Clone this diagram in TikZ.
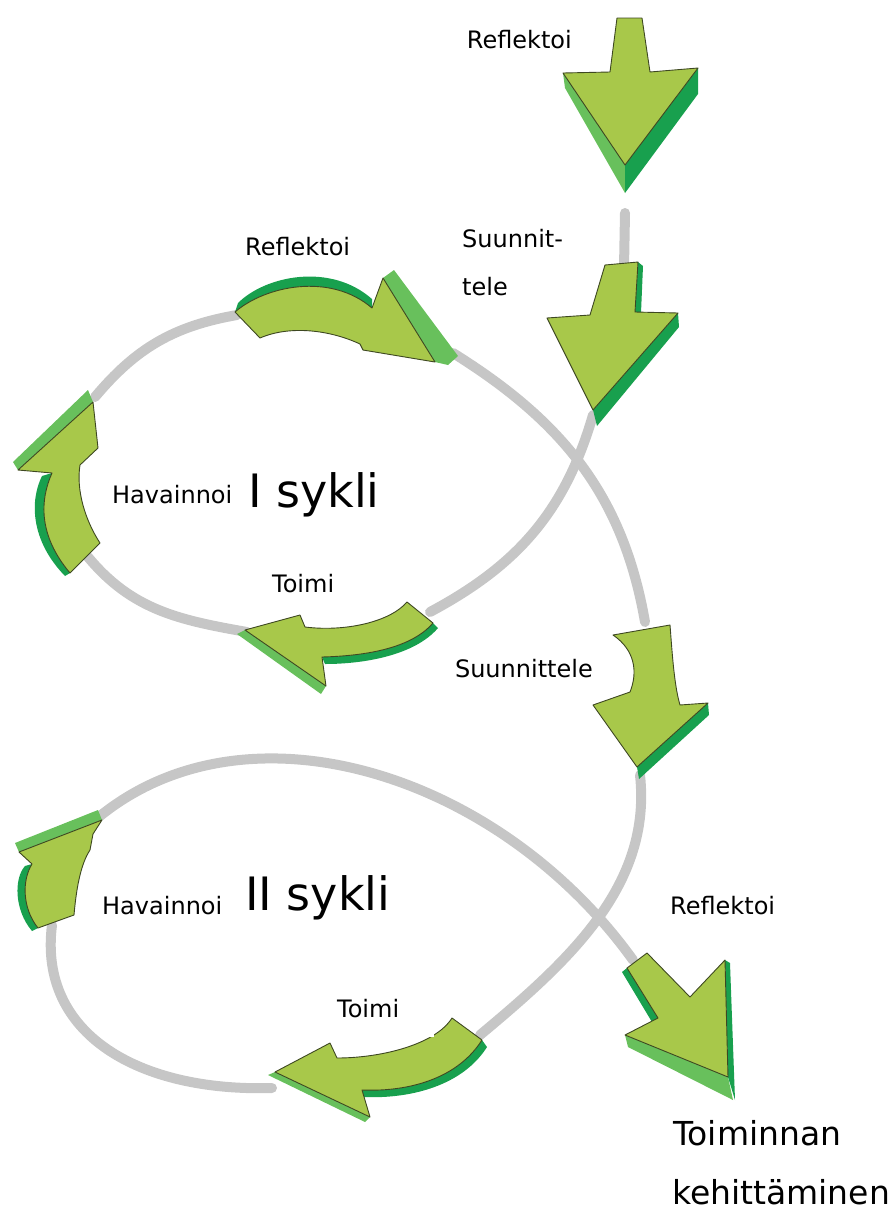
\documentclass[tikz,border=0pt]{standalone}
\usepackage{fontspec}
\setmainfont{DejaVu Sans}
\definecolor{leaf}{RGB}{168,200,74}
\definecolor{deep}{RGB}{24,160,78}
\definecolor{rim}{RGB}{104,192,92}
\definecolor{edgeline}{RGB}{62,72,34}
\definecolor{trackgray}{RGB}{198,198,198}

\begin{document}
\begin{tikzpicture}[x=1pt, y=-1pt,
    track/.style={draw=trackgray, line width=10pt, line cap=round},
    face/.style={fill=leaf, draw=edgeline, line width=0.9pt, line join=round},
    shade/.style={fill=deep},
    side/.style={fill=rim},
    lbl/.style={fill=white, inner sep=2pt, font=\fontsize{24}{24}\selectfont},
    cyclelbl/.style={fill=white, inner sep=2pt, font=\fontsize{46}{46}\selectfont},
    goallbl/.style={inner sep=0pt, font=\fontsize{33}{33}\selectfont}
]
\useasboundingbox (0,0) rectangle (896,1211);

% ends of the arrows
\coordinate (s1) at (625,213);
\coordinate (a2in) at (624,268);
\coordinate (a2out) at (593,415);
\coordinate (t1in) at (430,612);
\coordinate (t1out) at (247,632);
\coordinate (h1in) at (88,557);
\coordinate (h1out) at (95,397);
\coordinate (r1in) at (237,315);
\coordinate (r1out) at (453,353);
\coordinate (a6in) at (645,622);
\coordinate (a6out) at (640,775);
\coordinate (t2in) at (480,1035);
\coordinate (t2out) at (272,1088);
\coordinate (h2in) at (52,925);
\coordinate (h2out) at (100,816);
\coordinate (r2in) at (633,960);

% grey track
\draw[track] (s1) -- (a2in);
\draw[track] (a2out) .. controls (565,511) and (518,565) .. (t1in);
\draw[track] (t1out) .. controls (179,620) and (132,610) .. (h1in);
\draw[track] (h1out) .. controls (136,348) and (174,326) .. (r1in);
\draw[track] (r1out) .. controls (562,421) and (623,495) .. (a6in);
\draw[track] (a6out) .. controls (652,885) and (570,960) .. (t2in);
\draw[track] (t2out) .. controls (140,1092) and (38,1035) .. (h2in);
\draw[track] (h2out) .. controls (250,695) and (500,775) .. (r2in);

% (1)
\fill[side] (563,73) -- (625,165) -- (625,193) -- (565,88) -- cycle;
\fill[shade] (698,68) -- (698,94) -- (625,193) -- (625,165) -- cycle;
\filldraw[face] (617,18) -- (642,18) -- (650,72) -- (698,68) -- (625,165) -- (563,73) -- (610,72) -- cycle;

% (2)
\fill[shade] (638,262) -- (643,266) -- (641,313) -- (635,312) -- cycle;
\fill[shade] (678,313) -- (679,327) -- (597,426) -- (593,410) -- cycle;
\filldraw[face] (605,265) -- (638,262) -- (635,312) -- (678,313) -- (593,410) -- (547,318) -- (590,315) -- cycle;

% (3)
\fill[shade] (235,312) .. controls (265,286) and (330,272) .. (372,308) -- (372,299) .. controls (330,262) and (265,276) .. (238,303) -- cycle;
\fill[side] (383,278) -- (394,270) -- (458,356) -- (448,365) -- (435,362) -- cycle;
\filldraw[face] (235,312) .. controls (265,286) and (330,272) .. (372,308) -- (383,278) -- (435,362) -- (363,350) -- (360,344) .. controls (330,330) and (290,325) .. (260,338) -- cycle;

% (4)
\fill[shade] (52,473) .. controls (40,500) and (38,535) .. (70,573) -- (65,576) .. controls (30,540) and (30,500) .. (42,476) -- cycle;
\fill[side] (13,462) -- (88,390) -- (93,402) -- (18,470) -- cycle;
\filldraw[face] (18,470) -- (52,473) .. controls (40,500) and (38,535) .. (70,573) -- (100,543) .. controls (85,520) and (76,490) .. (80,465) -- (98,448) -- (93,402) -- cycle;

% (5)
\fill[side] (237,634) -- (245,630) -- (326,686) -- (321,694) -- cycle;
\fill[shade] (322,657) .. controls (360,656) and (410,650) .. (433,623) -- (438,628) .. controls (415,655) and (365,664) .. (325,664) -- cycle;
\filldraw[face] (245,630) -- (300,615) -- (305,627) .. controls (345,632) and (390,622) .. (407,602) -- (433,623) .. controls (410,650) and (360,656) .. (322,657) -- (326,686) -- cycle;

% (6)
\fill[shade] (708,703) -- (709,715) -- (639,779) -- (637,767) -- cycle;
\filldraw[face] (613,635) -- (670,625) .. controls (672,650) and (674,685) .. (680,705) -- (708,703) -- (637,767) -- (593,705) -- (630,692) .. controls (638,672) and (635,650) .. (613,635) -- cycle;

% (7)
\fill[side] (15,843) -- (98,810) -- (102,820) -- (19,852) -- cycle;
\fill[shade] (32,864) .. controls (22,880) and (22,908) .. (38,928) -- (32,931) .. controls (14,910) and (14,878) .. (25,866) -- cycle;
\filldraw[face] (19,852) -- (102,820) -- (93,834) -- (90,850) .. controls (80,865) and (76,892) .. (74,915) -- (38,928) .. controls (22,908) and (22,880) .. (32,864) -- cycle;

% (8)
\fill[side] (268,1075) -- (275,1072) -- (370,1117) -- (365,1122) -- cycle;
\fill[shade] (362,1090) .. controls (410,1092) and (458,1078) .. (482,1040) -- (487,1047) .. controls (463,1085) and (412,1099) .. (364,1097) -- cycle;
\filldraw[face] (275,1072) -- (330,1043) -- (337,1058) .. controls (380,1058) and (435,1045) .. (452,1018) -- (482,1040) .. controls (458,1078) and (410,1092) .. (362,1090) -- (370,1117) -- cycle;

% (9)
\fill[side] (625,1035) -- (628,1047) -- (733,1100) -- (728,1077) -- cycle;
\fill[shade] (725,960) -- (730,963) -- (735,1100) -- (728,1077) -- cycle;
\fill[shade] (627,968) -- (622,972) -- (652,1022) -- (658,1018) -- cycle;
\filldraw[face] (627,968) -- (647,953) -- (690,997) -- (725,960) -- (728,1077) -- (625,1035) -- (658,1018) -- cycle;

% labels
\node[lbl, anchor=base east] (reftop) at (574,48) {Reflektoi};
\node[lbl, anchor=base west] (ref1) at (243,255) {Reflektoi};
\node[lbl, anchor=base west] (plan1a) at (460,247) {Suunnit-};
\node[lbl, anchor=base west] (plan1b) at (460,295) {tele};
\node[lbl, anchor=base west] (obs1) at (110,503) {Havainnoi};
\node[cyclelbl, anchor=base west] (cyc1) at (246,507) {I sykli};
\node[lbl, anchor=base west] (act1) at (270,592) {Toimi};
\node[lbl, inner xsep=24pt, text depth=16pt, anchor=base east] (plan2) at (617,677) {Suunnittele};
\node[lbl, anchor=base west] (obs2) at (100,914) {Havainnoi};
\node[cyclelbl, anchor=base west] (cyc2) at (243,910) {II sykli};
\node[lbl, text width=95pt, align=left, text depth=18pt, anchor=base west] (act2) at (335,1017) {Toimi};
\node[lbl, anchor=base west] (ref2) at (668,914) {Reflektoi};
\node[goallbl, anchor=base west] (goal1) at (673,1145) {Toiminnan};
\node[goallbl, anchor=base west] (goal2) at (672,1204) {kehittäminen};

\end{tikzpicture}
\end{document}
